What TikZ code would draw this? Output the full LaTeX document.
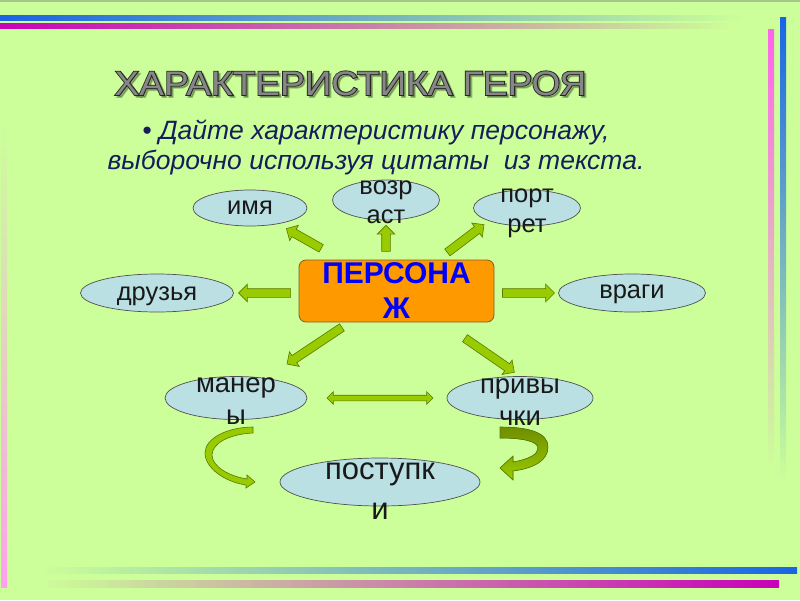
\documentclass[tikz,border=0pt]{standalone}
\usepackage{fontspec}
\setmainfont{Liberation Sans}
\newfontfamily\titlefat[FakeBold=5]{Liberation Sans}
\usetikzlibrary{shapes.geometric,shapes.arrows}

\definecolor{bg}{RGB}{204,255,153}
\definecolor{topedge}{RGB}{165,200,140}
\definecolor{lineblue}{RGB}{25,100,230}
\definecolor{linemag}{RGB}{200,0,185}
\definecolor{pinkbright}{RGB}{255,100,235}
\definecolor{pinklight}{RGB}{255,160,240}
\definecolor{titlefill}{RGB}{135,135,135}
\definecolor{subtitleblue}{RGB}{20,30,90}
\definecolor{herofill}{RGB}{255,153,0}
\definecolor{heroedge}{RGB}{130,95,40}
\definecolor{heroblue}{RGB}{0,0,255}
\definecolor{bubblefill}{RGB}{186,224,228}
\definecolor{bubbleedge}{RGB}{80,80,80}
\definecolor{arrowfill}{RGB}{153,204,0}
\definecolor{arrowedge}{RGB}{90,120,0}
\definecolor{arrowdark}{RGB}{112,142,0}

\newcommand{\herotitle}{ХАРАКТЕРИСТИКА ГЕРОЯ}

\begin{document}
\begin{tikzpicture}[x=1pt,y=-1pt,
  titletext/.style={anchor=base, inner sep=0pt, font=\fontsize{34}{40}\selectfont},
  herobox/.style={rectangle, rounded corners=7pt, draw=heroedge, fill=herofill, line width=0.8pt, minimum width=195pt, minimum height=62pt, inner sep=0pt, align=center, text=heroblue, font=\bfseries\fontsize{30}{35}\selectfont},
  bubble/.style={ellipse, draw=bubbleedge, fill=bubblefill, line width=0.7pt, inner sep=0pt},
  bubbletext/.style={align=center, inner sep=0pt, text=black!90},
  toptext/.style={bubbletext, font=\fontsize{25.5}{29}\selectfont},
  midtext/.style={bubbletext, font=\fontsize{27.5}{32}\selectfont},
  bigtext/.style={bubbletext, font=\fontsize{31}{40}\selectfont},
  blockarrow/.style={single arrow, draw=arrowedge, fill=arrowfill, line width=0.6pt, minimum width=0pt, inner xsep=0pt, inner ysep=4pt, single arrow head extend=4.5pt, single arrow tip angle=90, sloped, allow upside down},
  twinarrow/.style={double arrow, draw=arrowedge, fill=arrowfill, line width=0.6pt, minimum width=0pt, inner xsep=0pt, inner ysep=2.5pt, double arrow head extend=3.5pt, double arrow tip angle=90, sloped}]

% background and frame lines
\fill[bg] (0,0) rectangle (800,600);
\useasboundingbox (0,0) rectangle (800,600);
\fill[topedge] (0,0) rectangle (800,1.5);
\shade[left color=lineblue, right color=bg] (0,15) rectangle (745,20);
\shade[left color=linemag, right color=bg] (0,23) rectangle (735,28);
\shade[top color=lineblue, bottom color=bg] (780,17) rectangle (786,480);
\shade[top color=pinkbright, bottom color=bg] (768,29) rectangle (774,470);
\shade[top color=bg, bottom color=pinklight] (1,120) rectangle (7,587);
\shade[left color=bg, right color=lineblue] (40,567) rectangle (797,573);
\shade[left color=bg, right color=linemag] (40,580) rectangle (779,587);

% heading
\node[titletext, text=black, opacity=0.25] (titleshadow) at (352.5,97) {\scalebox{1.09}[1]{\titlefat\herotitle}};
\node[titletext, text=black!85] (titleedge) at (350.5,95) {\scalebox{1.09}[1]{\titlefat\herotitle}};
\node[titletext, text=titlefill] (title) at (350.5,95) {\scalebox{1.09}[1]{\herotitle}};
\node[align=center, inner sep=0pt, text=subtitleblue, font=\itshape\fontsize{26.5}{30}\selectfont] (subtitle) at (376,147) {• Дайте характеристику персонажу,\\выборочно используя цитаты~ из текста.};

% centre and bubbles
\node[herobox] (hero) at (396.5,291) {ПЕРСОНА\\Ж};

\node[bubble, minimum width=114pt, minimum height=36pt] (imya) at (250,208) {};
\node[bubble, minimum width=107pt, minimum height=40pt] (vozrast) at (386,200) {};
\node[bubble, minimum width=107pt, minimum height=36pt] (portret) at (527,208) {};
\node[bubble, minimum width=153pt, minimum height=38pt] (druzya) at (157,293) {};
\node[bubble, minimum width=147pt, minimum height=38pt] (vragi) at (632,293) {};
\node[bubble, minimum width=142pt, minimum height=43pt] (manery) at (236,398) {};
\node[bubble, minimum width=146pt, minimum height=43pt] (privychki) at (520,398) {};
\node[bubble, minimum width=200pt, minimum height=48pt] (postupki) at (380,482) {};

\node[toptext] (imya-t) at (imya) {имя};
\node[toptext] (vozrast-t) at ([yshift=-2.5pt]vozrast.center) {возр\\аст};
\node[toptext, font=\fontsize{25.5}{30}\selectfont] (portret-t) at ([yshift=-5pt]portret.center) {порт\\рет};
\node[toptext] (druzya-t) at ([yshift=-3pt]druzya.center) {друзья};
\node[toptext] (vragi-t) at ([yshift=-1pt]vragi.center) {враги};
\node[midtext] (manery-t) at ([yshift=-3pt]manery.center) {манер\\ы};
\node[midtext] (privychki-t) at ([yshift=-4pt]privychki.center) {привы\\чки};
\node[bigtext] (postupki-t) at ([yshift=-9pt]postupki.center) {поступк\\и};

% arrows
\path (hero.center) -- (imya.center) node[blockarrow, pos=0.62, minimum height=40pt] (toimya) {};
\path (hero.north -| vozrast) -- (vozrast.center) node[blockarrow, pos=0.32, minimum height=26pt] (tovozrast) {};
\path (hero.center) -- (portret.south west) node[blockarrow, pos=0.73, minimum height=46pt] (toportret) {};
\path (hero.west |- druzya) -- (druzya.center) node[blockarrow, pos=0.225, minimum height=52pt] (todruzya) {};
\path (hero.east |- vragi) -- (vragi.center) node[blockarrow, pos=0.232, minimum height=52pt] (tovragi) {};
\path (hero.center) -- (manery.center) node[blockarrow, pos=0.5, minimum height=66pt] (tomanery) {};
\path (hero.center) -- (privychki.north) node[blockarrow, pos=0.74, minimum height=60pt] (toprivychki) {};
\path (manery.center) -- (privychki.center) node[twinarrow, pos=0.507, minimum height=106pt] (mutual) {};

% curved arrows down to postupki
\filldraw[draw=arrowedge, fill=arrowfill, line width=0.6pt]
  (253,427) .. controls (228,427) and (205,438) .. (205,453)
  .. controls (205,468) and (225,482) .. (246,485) -- (246,488) -- (255,482)
  -- (247,475) -- (247,479) .. controls (228,476) and (212,466) .. (212,455)
  .. controls (212,443) and (230,434) .. (253,433) -- cycle;
\filldraw[draw=arrowedge, top color=arrowdark, bottom color=arrowfill, line width=0.6pt]
  (500,427) .. controls (530,427) and (548,433) .. (548,447)
  .. controls (548,460) and (535,468) .. (513,471) -- (513,480) -- (500,468)
  -- (513,456) -- (513,462) .. controls (530,459) and (538,454) .. (538,448)
  .. controls (538,442) and (525,438) .. (500,438) -- cycle;
\end{tikzpicture}
\end{document}
